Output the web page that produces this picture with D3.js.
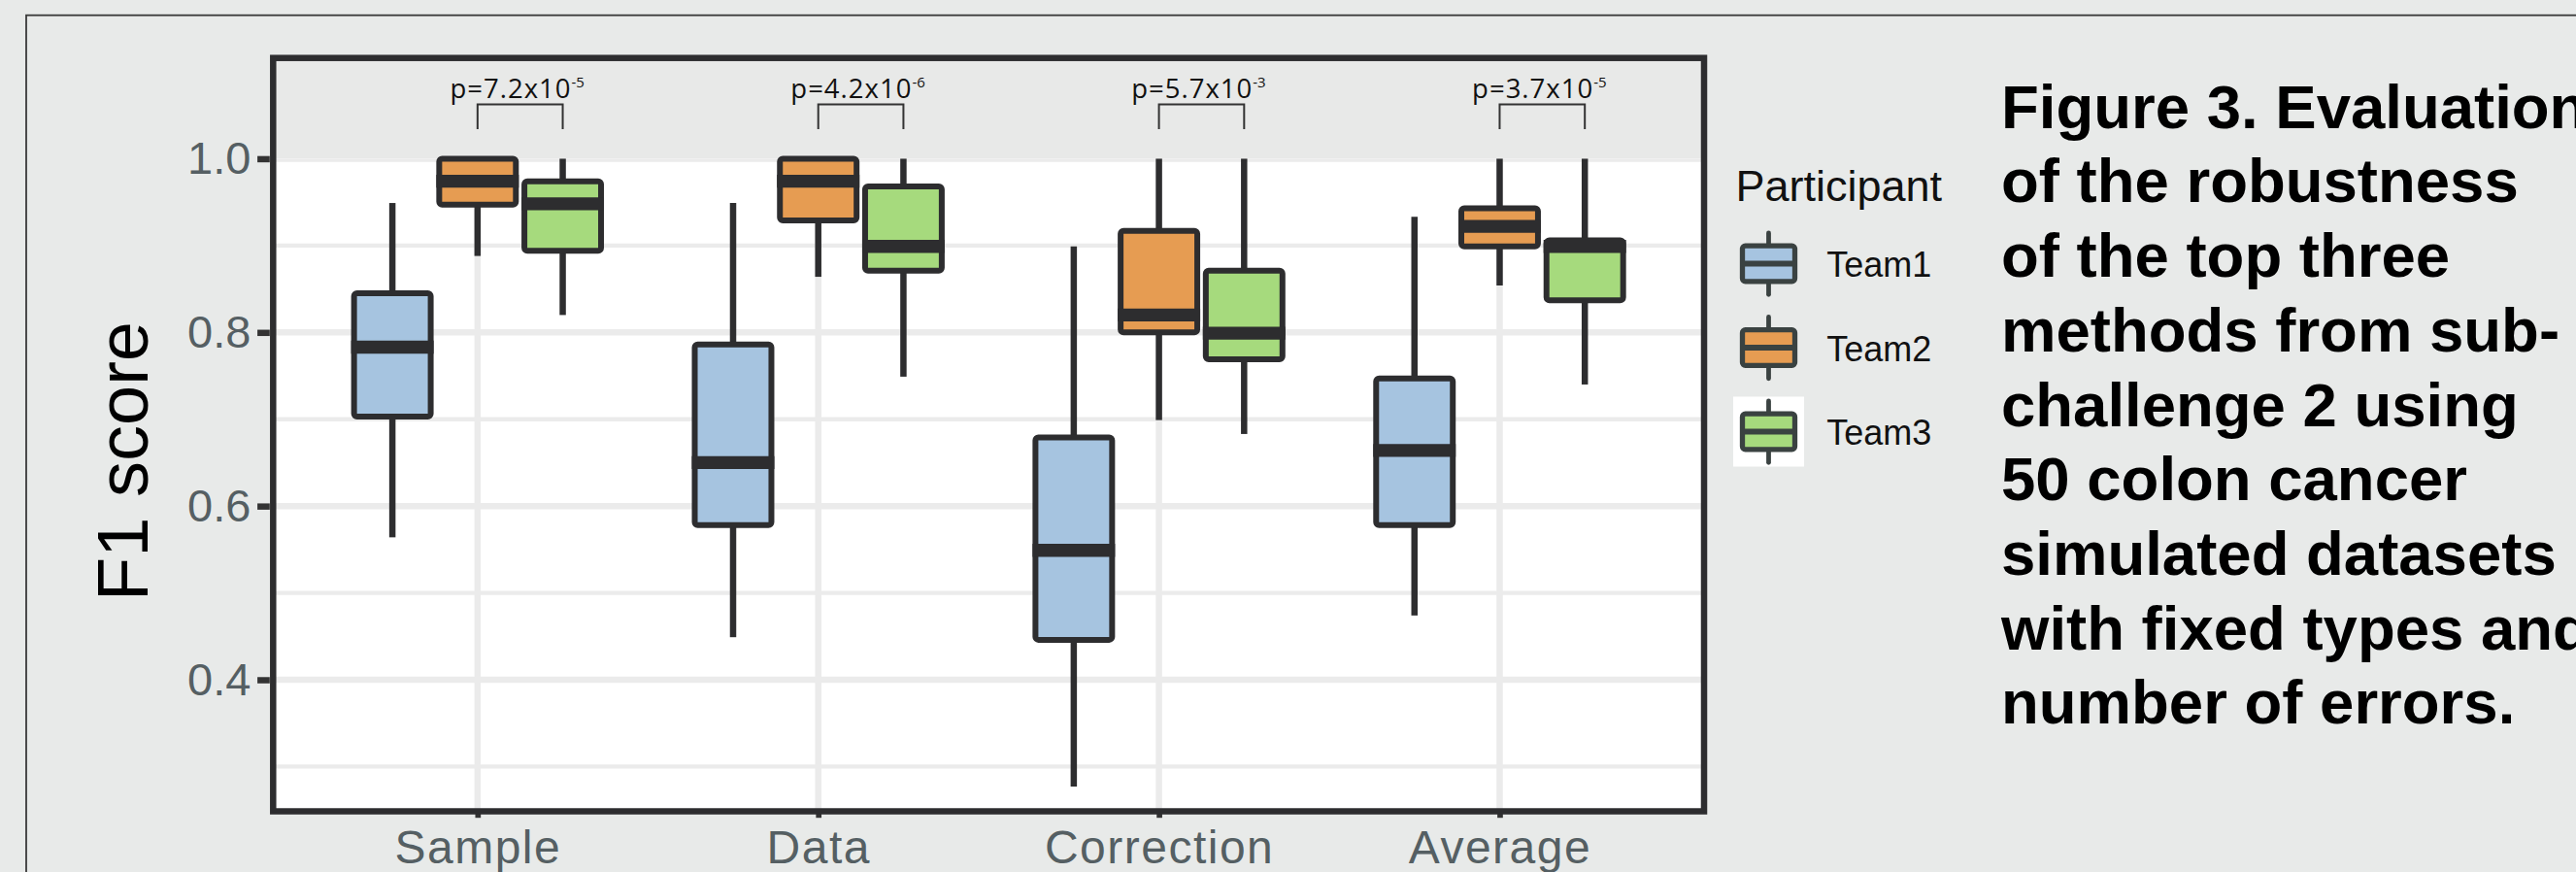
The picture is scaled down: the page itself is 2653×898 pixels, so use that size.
<!DOCTYPE html>
<html>
<head>
<meta charset="utf-8">
<script src="https://cdn.jsdelivr.net/npm/d3@7"></script>
<style>
  html, body { margin: 0; padding: 0; background: #e8eae9; overflow: hidden; }
  svg { display: block; }
</style>
</head>
<body>
<svg id="chart" width="2653" height="898"></svg>
<script>
// ---- data ----------------------------------------------------------------
const categories = ["Sample", "Data", "Correction", "Average"];
const teams = ["Team1", "Team2", "Team3"];

// five-number summaries per category: [lower whisker, Q1, median, Q3, upper whisker]
const team1Stats = [
  [0.564, 0.703, 0.783, 0.845, 0.949],
  [0.449, 0.578, 0.650, 0.786, 0.949],
  [0.277, 0.446, 0.549, 0.679, 0.899],
  [0.474, 0.578, 0.664, 0.747, 0.933]
];
const team2Stats = [
  [0.888, 0.947, 0.974, 1.000, 1.000],
  [0.864, 0.929, 0.974, 1.000, 1.000],
  [0.699, 0.800, 0.820, 0.917, 1.000],
  [0.854, 0.899, 0.922, 0.943, 1.000]
];
const team3Stats = [
  [0.820, 0.894, 0.948, 0.974, 1.000],
  [0.749, 0.871, 0.899, 0.968, 1.000],
  [0.683, 0.769, 0.799, 0.871, 1.000],
  [0.740, 0.837, 0.899, 0.906, 1.000]
];

// Team2 vs Team3 comparison per category: mantissa and exponent
const pMantissas = ["7.2", "4.2", "5.7", "3.7"];
const pExponents = ["-5", "-6", "-3", "-5"];

const yTicks = [0.4, 0.6, 0.8, 1.0];
const yMinorTicks = [0.3, 0.5, 0.7, 0.9];
const teamColors = ["#a6c4e0", "#e69c52", "#a6da7d"];

const yTitle = "F1 score";
const legendTitle = "Participant";
const captionLines = [
  "Figure 3. Evaluation",
  "of the robustness",
  "of the top three",
  "methods from sub-",
  "challenge 2 using",
  "50 colon cancer",
  "simulated datasets",
  "with fixed types and",
  "number of errors."
];

// ---- layout ----------------------------------------------------------------
const statsByTeam = [team1Stats, team2Stats, team3Stats];
const svg = d3.select("#chart");
const panel = { left: 281.3, right: 1755, top: 59.7, bottom: 835.5 };
const sansFont = "'Liberation Sans', Arial, Helvetica, sans-serif";
const ink = "#2d2d2f";

const y = d3.scaleLinear().domain([0.2485, 1.116]).range([panel.bottom, panel.top]);
const x = d3.scalePoint().domain(categories).range([panel.left, panel.right]).padding(0.6);
const step = x.step();
const dodge = d3.scaleBand().domain(teams).range([-0.375 * step, 0.375 * step]);
const boxW = dodge.bandwidth() * 0.9;
const color = d3.scaleOrdinal().domain(teams).range(teamColors);

// outer figure frame
svg.append("rect")
  .attr("x", 27).attr("y", 15.7)
  .attr("width", 3000).attr("height", 2000)
  .attr("fill", "none").attr("stroke", "#3a3a3a").attr("stroke-width", 1.8);

// panel: grey header band, white data area
svg.append("rect")
  .attr("x", panel.left).attr("y", panel.top)
  .attr("width", panel.right - panel.left).attr("height", panel.bottom - panel.top)
  .attr("fill", "#e8e9e8");
svg.append("rect")
  .attr("x", panel.left).attr("y", y(1.0))
  .attr("width", panel.right - panel.left).attr("height", panel.bottom - y(1.0))
  .attr("fill", "#ffffff");

svg.append("clipPath").attr("id", "dataArea")
  .append("rect")
  .attr("x", panel.left).attr("y", y(1.0))
  .attr("width", panel.right - panel.left).attr("height", panel.bottom - y(1.0));

const grid = svg.append("g").attr("clip-path", "url(#dataArea)");
grid.selectAll("line.minor").data(yMinorTicks).join("line")
  .attr("class", "minor")
  .attr("x1", panel.left).attr("x2", panel.right)
  .attr("y1", d => y(d)).attr("y2", d => y(d))
  .attr("stroke", "#ebebeb").attr("stroke-width", 4.3);
grid.selectAll("line.major").data(yTicks).join("line")
  .attr("class", "major")
  .attr("x1", panel.left).attr("x2", panel.right)
  .attr("y1", d => y(d)).attr("y2", d => y(d))
  .attr("stroke", "#ebebeb").attr("stroke-width", 6.5);
grid.selectAll("line.vert").data(categories).join("line")
  .attr("class", "vert")
  .attr("x1", d => x(d)).attr("x2", d => x(d))
  .attr("y1", panel.top).attr("y2", panel.bottom)
  .attr("stroke", "#ebebeb").attr("stroke-width", 6.5);

// ---- boxes -----------------------------------------------------------------
const boxes = [];
teams.forEach((t, j) => {
  categories.forEach((c, i) => {
    const s = statsByTeam[j][i];
    boxes.push({ team: t, cat: c, lo: s[0], q1: s[1], med: s[2], q3: s[3], hi: s[4] });
  });
});

const boxG = svg.append("g").selectAll("g").data(boxes).join("g")
  .attr("transform", d => `translate(${x(d.cat) + dodge(d.team) + dodge.bandwidth() / 2},0)`);

boxG.append("line")
  .attr("x1", 0).attr("x2", 0)
  .attr("y1", d => y(d.hi)).attr("y2", d => y(d.q3))
  .attr("stroke", ink).attr("stroke-width", 6.5);
boxG.append("line")
  .attr("x1", 0).attr("x2", 0)
  .attr("y1", d => y(d.q1)).attr("y2", d => y(d.lo))
  .attr("stroke", ink).attr("stroke-width", 6.5);
boxG.append("rect")
  .attr("x", -boxW / 2).attr("width", boxW)
  .attr("y", d => y(d.q3)).attr("height", d => y(d.q1) - y(d.q3))
  .attr("rx", 3)
  .attr("fill", d => color(d.team))
  .attr("stroke", ink).attr("stroke-width", 6);
boxG.append("line")
  .attr("x1", -boxW / 2 - 3).attr("x2", boxW / 2 + 3)
  .attr("y1", d => y(d.med)).attr("y2", d => y(d.med))
  .attr("stroke", ink).attr("stroke-width", 13.3);

// ---- significance brackets (Team2 vs Team3) -------------------------------
const sig = svg.append("g").selectAll("g").data(categories).join("g");
sig.append("path")
  .attr("d", c => {
    const x2 = x(c) + dodge("Team2") + dodge.bandwidth() / 2;
    const x3 = x(c) + dodge("Team3") + dodge.bandwidth() / 2;
    return `M${x2},${y(1.034)}V${y(1.0625)}H${x3}V${y(1.034)}`;
  })
  .attr("fill", "none").attr("stroke", "#333").attr("stroke-width", 2);
const sigText = sig.append("text")
  .attr("x", c => x(c) + dodge("Team2") + dodge.bandwidth() - 3)
  .attr("y", y(1.0695))
  .attr("text-anchor", "middle")
  .attr("font-family", "'Open Sans', sans-serif")
  .attr("fill", "#111");
sigText.append("tspan")
  .attr("font-size", 27.5).attr("letter-spacing", 1)
  .text((c, i) => `p=${pMantissas[i]}x10`);
sigText.append("tspan")
  .attr("font-size", 15).attr("dy", -11)
  .text((c, i) => pExponents[i]);

// ---- axes --------------------------------------------------------------------
const yAxis = svg.append("g")
  .attr("transform", `translate(${panel.left - 3.5},0)`)
  .call(d3.axisLeft(y).tickValues(yTicks).tickFormat(d3.format(".1f")).tickSize(12.7).tickPadding(6.7));
yAxis.select(".domain").remove();
yAxis.selectAll(".tick line").attr("stroke", "#333").attr("stroke-width", 6.5);
yAxis.selectAll(".tick text")
  .attr("font-family", sansFont).attr("font-size", 47).attr("fill", "#555f63");

const xAxis = svg.append("g")
  .attr("transform", `translate(0,${panel.bottom + 1.2})`)
  .call(d3.axisBottom(x).tickSize(5.5).tickPadding(13));
xAxis.select(".domain").remove();
xAxis.selectAll(".tick line").attr("stroke", "#333").attr("stroke-width", 5.7);
xAxis.selectAll(".tick text")
  .attr("font-family", sansFont).attr("font-size", 48).attr("letter-spacing", 1.5)
  .attr("fill", "#555f63");

// panel border
svg.append("rect")
  .attr("x", panel.left).attr("y", panel.top)
  .attr("width", panel.right - panel.left).attr("height", panel.bottom - panel.top)
  .attr("fill", "none").attr("stroke", ink).attr("stroke-width", 6.5);

// y-axis title
svg.append("text")
  .attr("transform", "translate(152,475) rotate(-90)")
  .attr("text-anchor", "middle")
  .attr("font-family", sansFont).attr("font-size", 74).attr("fill", "#000")
  .text(yTitle);

// ---- legend ----------------------------------------------------------------
const legend = svg.append("g");
legend.append("text")
  .attr("x", 1787.4).attr("y", 207)
  .attr("font-family", sansFont).attr("font-size", 45).attr("fill", "#111")
  .text(legendTitle);

const keyX = 1821.5, keyY0 = 271.5, keyGap = 86.5;
const keyStroke = "#3a4241";
const keys = legend.selectAll("g.key").data(teams).join("g")
  .attr("class", "key")
  .attr("transform", (d, i) => `translate(${keyX},${keyY0 + i * keyGap})`);
keys.filter((d, i) => i === teams.length - 1).append("rect")
  .attr("x", -36.5).attr("y", -36).attr("width", 73).attr("height", 72)
  .attr("fill", "#ffffff");
keys.append("line")
  .attr("x1", 0).attr("x2", 0).attr("y1", -31.5).attr("y2", 31.8)
  .attr("stroke", keyStroke).attr("stroke-width", 4.8).attr("stroke-linecap", "round");
keys.append("rect")
  .attr("x", -27).attr("y", -18.3).attr("width", 54).attr("height", 36.6).attr("rx", 3)
  .attr("fill", d => color(d)).attr("stroke", keyStroke).attr("stroke-width", 5.3);
keys.append("line")
  .attr("x1", -27).attr("x2", 27).attr("y1", 0).attr("y2", 0)
  .attr("stroke", keyStroke).attr("stroke-width", 6);
keys.append("text")
  .attr("x", 1881.3 - keyX).attr("y", 13.5)
  .attr("font-family", sansFont).attr("font-size", 36).attr("fill", "#111")
  .text(d => d);

// ---- caption -------------------------------------------------------------------
svg.append("g").selectAll("text").data(captionLines).join("text")
  .attr("x", 2061).attr("y", (d, i) => 131.7 + i * 76.7)
  .attr("font-family", sansFont).attr("font-weight", "bold").attr("font-size", 63.5)
  .attr("fill", "#000")
  .text(d => d);
</script>
</body>
</html>
